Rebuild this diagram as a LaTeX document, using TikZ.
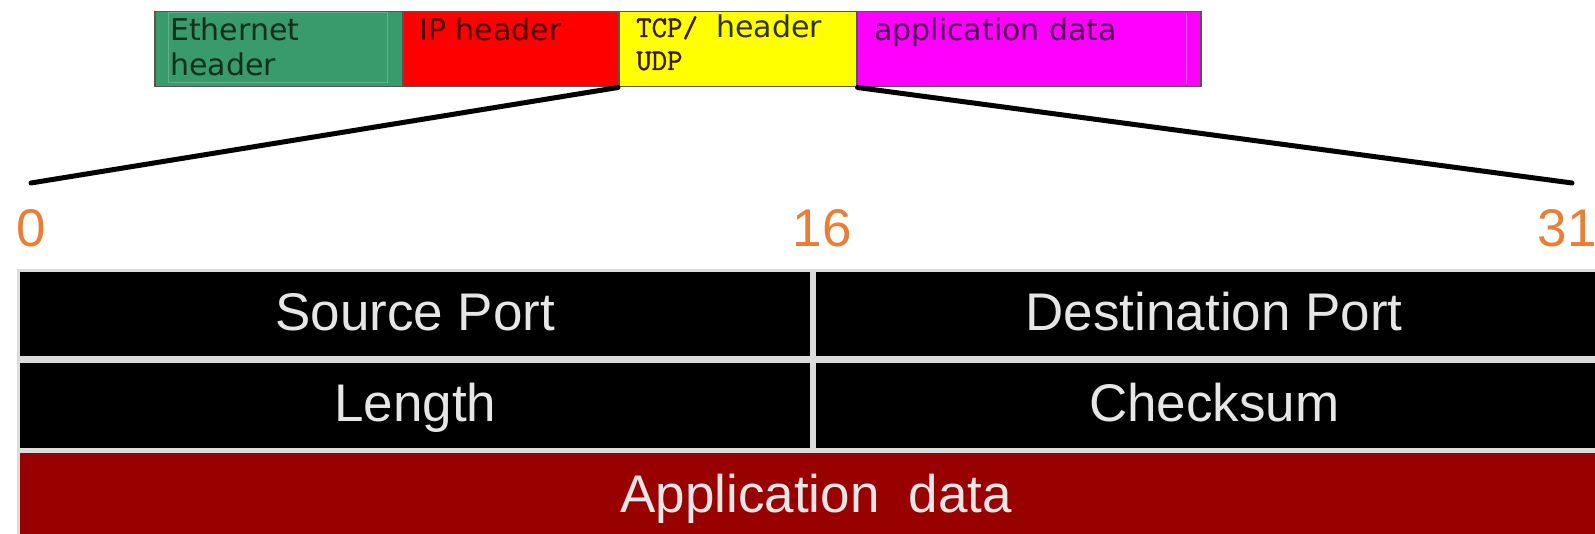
\documentclass[tikz,border=0pt]{standalone}
\usepackage{fontspec}
\setmainfont{Liberation Sans}
\newfontfamily\barfont{DejaVu Sans}
\newfontfamily\tcpfont[FakeBold=1.2]{Latin Modern Mono}

\definecolor{ethgreen}{RGB}{57,154,107}
\definecolor{ethinner}{RGB}{95,178,135}
\definecolor{ethtext}{RGB}{16,48,28}
\definecolor{ipred}{RGB}{255,0,0}
\definecolor{iptext}{RGB}{80,0,0}
\definecolor{tcpyellow}{RGB}{255,255,0}
\definecolor{tcptext}{RGB}{58,26,0}
\definecolor{tcpword}{RGB}{50,50,10}
\definecolor{appmagenta}{RGB}{255,0,255}
\definecolor{apptext}{RGB}{80,10,88}
\definecolor{appinner}{RGB}{245,90,245}
\definecolor{segedge}{RGB}{85,85,85}
\definecolor{bitorange}{RGB}{233,126,52}
\definecolor{gridgray}{RGB}{220,220,220}
\definecolor{celltext}{RGB}{230,230,230}
\definecolor{datared}{RGB}{153,0,0}

\begin{document}
\begin{tikzpicture}[x=1pt,y=-1pt,
  seg/.style={draw=segedge, line width=1.5pt, minimum height=75pt,
    inner sep=0pt, anchor=north west},
  barlabel/.style={anchor=base west, inner sep=0pt,
    font=\barfont\fontsize{30}{36}\selectfont},
  monolabel/.style={anchor=base west, inner sep=0pt,
    font=\tcpfont\fontsize{30}{34}\selectfont},
  bitnum/.style={anchor=base, inner sep=0pt, text=bitorange,
    font=\fontsize{53}{60}\selectfont},
  cell/.style={fill=black, anchor=north west, inner sep=0pt,
    text=celltext, font=\fontsize{53}{60}\selectfont,
    text height=32pt, text depth=0pt},
  wire/.style={line width=5pt, line cap=round, black}
]
\useasboundingbox (0,0) rectangle (1595,534);
\clip (0,0) rectangle (1595,534);

% encapsulation bar
\node[seg, fill=ethgreen, minimum width=248pt] (eth) at (154,11) {};
\draw[ethinner, line width=1pt] (168,13) rectangle (387,83);
\node[seg, fill=ipred, minimum width=216pt] (ip) at (402,11) {};
\node[seg, fill=tcpyellow, minimum width=238pt] (tcp) at (618,11) {};
\node[seg, fill=appmagenta, minimum width=344pt] (app) at (856,11) {};
\draw[appinner, line width=1pt] (1186,13) -- (1186,84);

\node[barlabel, text=ethtext] (ethA) at (170,41) {Ethernet};
\node[barlabel, text=ethtext] (ethB) at (170,76) {header};
\node[barlabel, text=iptext] (iplab) at (419,41) {IP header};
\node[monolabel, text=tcptext] (tcpA) at (636,37) {TCP/};
\node[barlabel, text=tcpword] (tcpB) at (716,38) {header};
\node[monolabel, text=tcptext] (tcpC) at (636,70) {UDP};
\node[barlabel, text=apptext] (applab) at (874,41) {application data};

% zoom lines
\coordinate (lend) at (31,183);
\coordinate (rend) at (1572,183);
\draw[wire] (tcp.south west) -- (lend);
\draw[wire] (tcp.south east) -- (rend);

% bit positions
\node[bitnum] (b0) at (31,247) {0};
\node[bitnum] (b16) at (822,247) {16};
\node[bitnum] (b31) at (1567,247) {31};

% UDP header layout
\node[fill=gridgray, anchor=north west, inner sep=0pt,
  minimum width=1600pt, minimum height=280pt] (grid) at (17,269) {};
\node[cell, minimum width=790pt, minimum height=84pt] (src) at (20,272) {Source Port};
\node[cell, minimum width=796pt, minimum height=84pt] (dst) at (816,272) {Destination Port};
\node[cell, minimum width=790pt, minimum height=85pt] (len) at (20,363) {Length};
\node[cell, minimum width=796pt, minimum height=85pt] (chk) at (816,363) {Checksum};
\node[cell, fill=datared, minimum width=1592pt, minimum height=87pt] (data) at (20,453) {Application\ \ data};
\end{tikzpicture}
\end{document}
